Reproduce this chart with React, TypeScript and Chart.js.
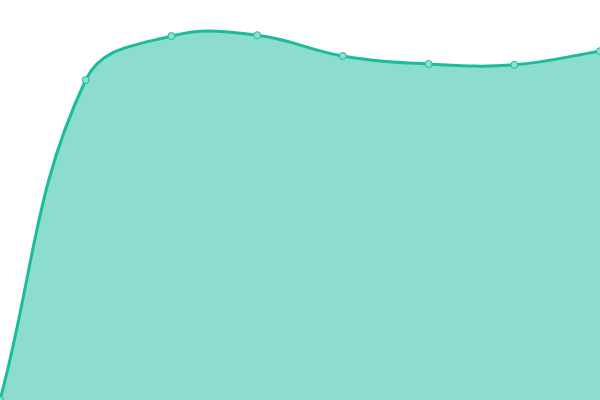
import { useEffect, useRef } from 'react';
import Chart from 'chart.js/auto';

const labels = ['Jan', 'Feb', 'Mar', 'Apr', 'May', 'Jun', 'Jul', 'Aug'];
const values = [0, 80, 91, 91.2, 86, 84, 83.8, 87.2];

export default function App() {
  const canvasRef = useRef<HTMLCanvasElement>(null);
  const chartRef = useRef<Chart | null>(null);

  useEffect(() => {
    document.body.style.margin = '0';
    if (!canvasRef.current) return;
    if (chartRef.current) chartRef.current.destroy();

    chartRef.current = new Chart(canvasRef.current, {
      type: 'line',
      data: {
        labels,
        datasets: [{
          data: values,
          fill: true,
          tension: 0.4,
          borderColor: '#1abc9c',
          backgroundColor: 'rgba(26, 188, 156, 0.5)',
          borderWidth: 3,
          pointRadius: 3.5,
          pointBorderWidth: 1,
          pointBorderColor: '#1abc9c',
          pointBackgroundColor: '#8de0d0',
        }],
      },
      options: {
        responsive: true,
        maintainAspectRatio: false,
        animation: false,
        layout: { padding: 0, autoPadding: false },
        plugins: {
          legend: { display: false },
          tooltip: { enabled: false },
        },
        scales: {
          x: { display: false, offset: false },
          y: { display: false, min: 0, max: 100 },
        },
      },
    });

    return () => chartRef.current?.destroy();
  }, []);

  return (
    <div style={{ position: 'fixed', left: 0, top: 0, width: 600, height: 400 }}>
      <canvas ref={canvasRef} />
    </div>
  );
}
